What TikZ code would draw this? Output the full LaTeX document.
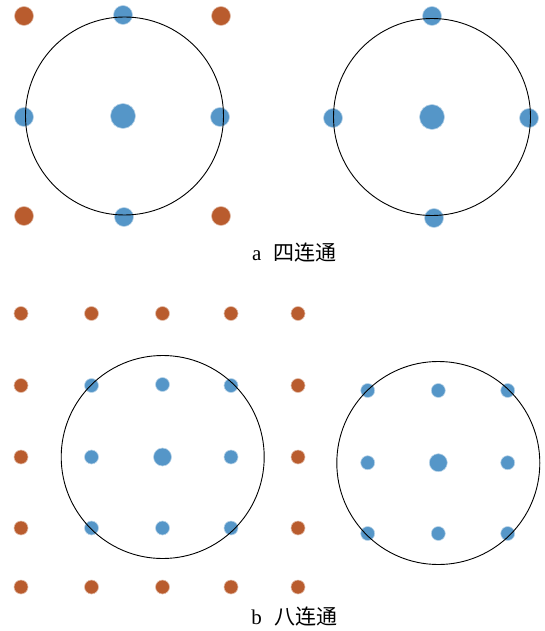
\documentclass[tikz,border=0pt]{standalone}
\usepackage{fontspec}
\setmainfont{Liberation Serif}
\newfontfamily\cjk{Noto Sans CJK SC}
\definecolor{dotblue}{RGB}{85,150,200}
\definecolor{dotorange}{RGB}{185,92,46}
\begin{document}
\begin{tikzpicture}[x=1pt,y=-1pt,
  bdot/.style={circle,fill=dotblue,draw=dotblue!40!white,line width=0.6pt,inner sep=0pt},
  odot/.style={circle,fill=dotorange,draw=dotorange!40!white,line width=0.6pt,inner sep=0pt},
  bigA/.style={minimum size=25pt},
  smallA/.style={minimum size=19pt},
  bigB/.style={minimum size=18pt},
  smallB/.style={minimum size=14pt},
  ring/.style={draw=black,line width=0.9pt},
  lbl/.style={font=\fontsize{21}{24}\selectfont,inner sep=0pt}]
\useasboundingbox (0,0) rectangle (544,631);
% ---- a: four-connected, left
\foreach \n/\x/\y in {o1/24/16,o2/221/16,o3/24/216,o4/221/216}
  \node[odot,smallA] (a\n) at (\x,\y) {};
\foreach \n/\x/\y in {t/123/15,l/24/117,r/220/117,b/124/217}
  \node[bdot,smallA] (al\n) at (\x,\y) {};
\node[bdot,bigA] (alc) at (123,116) {};
\node[ring,circle,minimum size=198pt,inner sep=0pt] (acirc1) at (124.5,116) {};
% ---- a: right
\foreach \n/\x/\y in {t/432/16,l/333/118,r/529/118,b/434/218}
  \node[bdot,smallA] (ar\n) at (\x,\y) {};
\node[bdot,bigA] (arc) at (432,117) {};
\node[ring,circle,minimum size=197pt,inner sep=0pt] (acirc2) at (432,117) {};
\node[lbl] (lbla) at (294.5,253) {a\hspace{0.6em}{\cjk 四连通}};
% ---- b: eight-connected, left
\foreach \i/\x in {1/21,2/91.5,3/162.5,4/231,5/298}
  \foreach \j/\y in {1/313.5,2/385.5,3/457,4/528,5/587}
    {\ifnum\i>1 \ifnum\i<5 \ifnum\j>1 \ifnum\j<5
       \else\node[odot,smallB] (bo\i\j) at (\x,\y) {};\fi
       \else\node[odot,smallB] (bo\i\j) at (\x,\y) {};\fi
       \else\node[odot,smallB] (bo\i\j) at (\x,\y) {};\fi
       \else\node[odot,smallB] (bo\i\j) at (\x,\y) {};\fi}
\foreach \n/\x/\y in {1/91.5/385.5,2/162.5/384.5,3/231/385.5,4/91.5/457,5/231/457,6/91.5/528,7/162.5/528,8/231/528}
  \node[bdot,smallB] (bl\n) at (\x,\y) {};
\node[bdot,bigB] (blc) at (162.5,457) {};
\node[ring,circle,minimum size=203pt,inner sep=0pt] (bcirc1) at (162.7,457) {};
% ---- b: right
\foreach \n/\x/\y in {1/367.7/390.5,2/438.3/390.5,3/507.7/390.5,4/367.7/462.7,5/507.7/462.7,6/367.7/533.5,7/438.3/533.5,8/507.7/533.5}
  \node[bdot,smallB] (br\n) at (\x,\y) {};
\node[bdot,bigB] (brc) at (438.3,462.7) {};
\node[ring,circle,minimum size=203pt,inner sep=0pt] (bcirc2) at (438.3,463) {};
\node[lbl] (lblb) at (294.5,617) {b\hspace{0.6em}{\cjk 八连通}};
\end{tikzpicture}
\end{document}
